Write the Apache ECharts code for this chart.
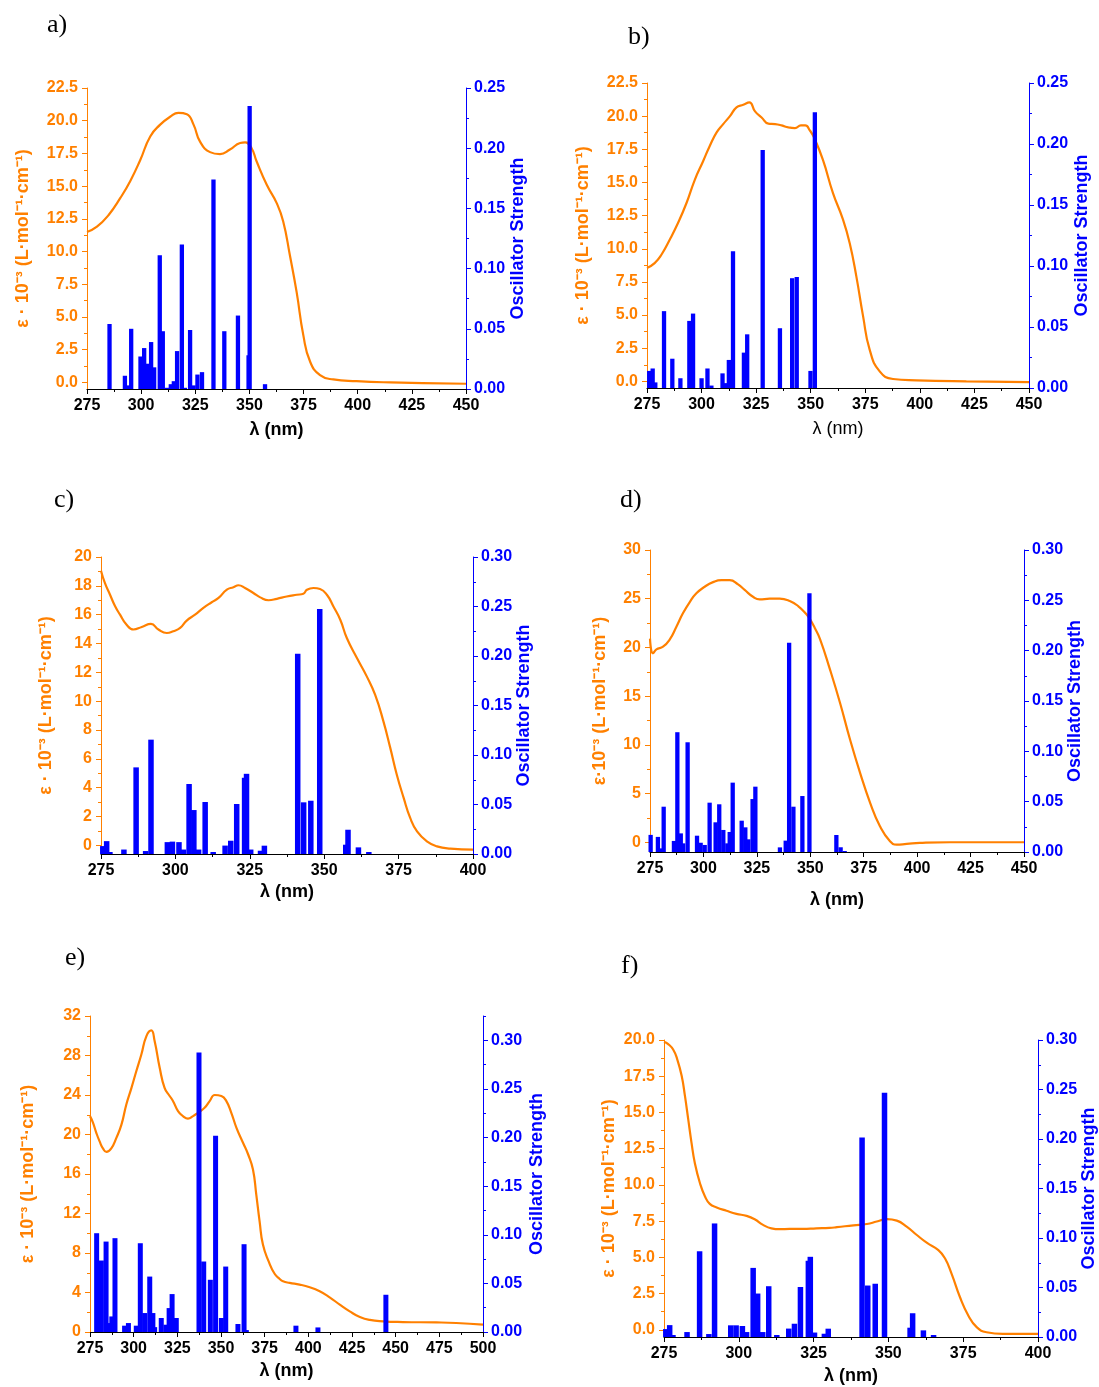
<!DOCTYPE html>
<html><head><meta charset="utf-8">
<script src="https://cdn.jsdelivr.net/npm/echarts@6/dist/echarts.min.js"></script>
<style>html,body{margin:0;padding:0;background:#fff}#c{width:1099px;height:1387px}</style>
</head><body><div id="c"></div>
<script>
// ---------- Panel a ----------
const curveA_x = [275,279.6,285,290.4,295,299.6,304.2,308.8,313.4,317.2,321.1,324.2,327.2,331.8,336.4,341,345.7,348,351,353.3,358,362.6,365.6,368.7,371.8,374.9,378,382.6,388.7,399.5,415,430,450];
const curveA_y = [11.5,11.9,12.8,14.1,15.4,17.0,18.8,19.7,20.3,20.6,20.5,19.7,18.4,17.6,17.45,17.8,18.3,18.35,17.9,16.9,15.1,13.7,12.3,9.7,6.9,3.6,1.6,0.56,0.23,0.1,0.0,-0.05,-0.1];
const barsA_x = [285.4,292.5,294.0,295.4,299.7,301.4,303.0,304.6,306.0,308.6,310.0,312.0,313.7,315.1,316.6,318.8,320.2,322.6,324.2,326.0,328.1,333.4,338.4,344.7,349.6,350.1,357.2];
const barsA_y = [0.054,0.011,0.003,0.050,0.027,0.034,0.021,0.039,0.018,0.111,0.048,0.001,0.004,0.0065,0.0315,0.120,0.001,0.049,0.003,0.012,0.014,0.174,0.048,0.061,0.028,0.235,0.004];

// ---------- Panel b ----------
const curveB_x = [275,278.5,281.6,285.4,289.2,293.1,296.9,300.7,303.8,306.9,309.9,313,316,319.1,321.9,324.5,327.5,330.6,333.7,336.7,339.8,342.8,345.5,347.5,349.7,351.5,355.6,360.2,364.8,367.9,370.9,374,377,381.6,387.7,398.4,421.3,450];
const curveB_y = [8.55,8.92,9.55,10.68,11.94,13.45,15.2,16.6,17.77,18.78,19.4,20.0,20.66,20.86,21.04,20.36,19.9,19.43,19.4,19.3,19.15,19.1,19.3,19.3,18.9,18.4,16.7,14.2,12.2,10.4,7.92,4.9,2.39,0.75,0.18,0.08,0.0,-0.05];
const barsB_x = [276.0,277.6,278.8,282.8,286.6,290.3,294.4,296.1,300.0,302.7,304.5,309.6,311.0,312.5,314.4,319.4,320.9,328.0,335.9,341.5,343.6,349.9,351.9];
const barsB_y = [0.014,0.016,0.0046,0.063,0.024,0.008,0.055,0.061,0.008,0.016,0.002,0.012,0.004,0.023,0.112,0.029,0.044,0.195,0.049,0.090,0.091,0.014,0.226];

// ---------- Panel c ----------
const curveC_x = [275,276.3,278,279.7,281.4,283.6,285.9,288.7,291.8,294.3,297.1,299.3,301.6,303.8,306.6,309.4,312.2,314.5,317.3,319.5,321.2,323.4,326.2,328.5,331.3,334.1,337.4,340.8,343,344.2,346.4,348.6,350.9,353.1,355.4,357.6,361,364.3,367.1,369.9,372.2,374.4,376.7,378.9,381.2,384.5,387.9,392.4,400];
const curveC_y = [19.05,18.2,17.4,16.6,16.0,15.3,14.97,15.15,15.36,14.97,14.73,14.85,15.08,15.59,16.0,16.47,16.86,17.16,17.74,17.9,18.04,17.85,17.5,17.2,17.0,17.1,17.26,17.38,17.45,17.73,17.85,17.78,17.38,16.57,15.65,14.38,12.99,11.72,10.45,8.6,6.76,4.9,3.29,1.9,0.97,0.28,-0.07,-0.23,-0.3];
const barsC_x = [275.6,276.9,278.0,282.7,286.8,290.0,291.8,297.3,299.0,301.2,302.7,304.6,306.2,307.8,310.0,312.7,316.7,318.6,320.6,323.25,323.9,325.3,328.6,329.9,341.1,343.1,345.5,348.5,357.25,358.0,361.5,365.0];
const barsC_y = [0.008,0.013,0.002,0.0045,0.0875,0.003,0.1155,0.012,0.0125,0.012,0.0045,0.0707,0.0444,0.0045,0.0525,0.002,0.0085,0.0134,0.0505,0.077,0.081,0.0045,0.0033,0.0084,0.2023,0.0522,0.0538,0.2475,0.0094,0.0245,0.0067,0.002];

// ---------- Panel d ----------
const curveD_x = [275,276.4,278,281.1,284.2,287.3,290.4,293.6,296.7,300.6,304.5,308.4,312.3,316.2,319.3,323.2,326.3,331,335.7,340.4,344.3,348.2,349.9,352.1,354.6,359.2,363.9,368.6,373.3,378,382.6,387.3,390.4,395.1,401.3,415.4,450];
const curveD_y = [20.9,19.4,19.8,20.07,20.8,22.1,23.5,24.66,25.55,26.23,26.7,26.9,26.9,26.47,25.9,25.2,24.93,25.0,25.0,24.76,24.25,23.4,22.88,22.0,20.83,17.74,14.32,10.55,7.13,4.05,1.64,0.1,-0.24,-0.17,-0.07,0,0];
const barsD_x = [275.3,278.7,280.0,281.4,286.2,287.8,289.4,290.5,292.6,297.0,298.7,300.6,302.9,305.7,307.4,309.3,311.2,312.3,313.7,317.9,319.6,321.0,323.0,324.3,335.8,338.5,340.1,342.1,346.3,349.6,362.2,364.2,366.1];
const barsD_y = [0.017,0.015,0.0036,0.045,0.011,0.119,0.0185,0.0086,0.109,0.0162,0.0092,0.007,0.049,0.0295,0.0474,0.0219,0.0086,0.0199,0.0689,0.0311,0.0245,0.0126,0.0526,0.0649,0.0046,0.0113,0.2079,0.045,0.0556,0.257,0.0169,0.0047,0.001];

// ---------- Panel e ----------
const curveE_x = [275,276.7,278.6,280.5,282.4,284.4,287.2,290.1,293,295.8,298.7,301.5,304.4,307.3,310.1,312,314.9,317.7,320.6,322.5,325.4,328.2,331.1,334,336.8,340.6,343.5,346.4,350.2,353,355.9,358.8,362.6,365.5,368.3,370.2,372.1,374,377.4,380.7,383.6,385.5,389.3,395,400.8,406.5,412.2,418,423.7,429.5,435.2,442.8,454.2,473.3,484.7,500];
const curveE_y = [21.86,21.2,20.17,19.3,18.6,18.24,18.6,19.66,21.0,23.04,24.7,26.4,28.1,29.97,30.54,29.46,26.76,24.73,23.9,23.4,22.36,21.86,21.6,21.86,22.2,22.7,23.38,24.0,23.9,23.4,22.2,20.7,19.16,18.0,16.45,13.92,11.2,8.85,7.1,5.9,5.37,5.13,4.97,4.8,4.53,4.12,3.51,2.77,2.09,1.52,1.22,1.08,1.01,0.97,0.91,0.74];
const barsE_x = [278.8,280.2,281.5,284.2,286.3,287.5,289.3,294.8,297.0,301.5,303.8,306.3,309.2,311.0,312.0,315.8,318.5,320.3,322.0,324.4,337.4,340.1,343.9,346.9,350.2,352.7,359.7,363.2,364.5,392.9,405.5,444.4];
const barsE_y = [0.1016,0.030,0.0735,0.093,0.0092,0.016,0.0965,0.0065,0.0092,0.0065,0.0913,0.0195,0.057,0.0195,0.005,0.0144,0.0075,0.0246,0.039,0.0144,0.2874,0.0725,0.0537,0.2018,0.0144,0.0673,0.0082,0.0903,0.002,0.0065,0.0047,0.0383];

// ---------- Panel f ----------
const curveF_x = [275,276.4,278.1,279.4,280.9,282,283.1,284.2,285.3,287,288.7,290.3,292.6,295.9,299.2,302.6,305.3,308.1,310.9,313.7,317,321.4,325.9,330.3,332.8,338.3,342.8,346.1,349.5,352.8,356.1,359.5,362.8,366.7,368.9,371.1,373.9,376.7,379.5,382.8,388.3,400];
const curveF_y = [19.88,19.72,19.33,18.68,17.53,16.14,14.52,12.9,11.51,10.13,9.2,8.69,8.44,8.21,8.0,7.86,7.63,7.24,7.0,6.94,6.96,6.96,7.0,7.03,7.08,7.21,7.3,7.47,7.63,7.53,7.12,6.54,6.01,5.5,4.93,3.88,2.26,0.99,0.18,-0.17,-0.28,-0.28];
const barsF_x = [275.6,276.9,278.0,282.7,286.9,290.0,291.9,297.3,299.1,301.2,302.6,304.8,306.3,308.0,310.0,312.7,316.7,318.6,320.6,323.25,323.9,325.3,328.6,329.9,341.2,343.1,345.6,348.7,357.25,358.1,361.7,365.1];
const barsF_y = [0.008,0.012,0.002,0.005,0.0866,0.003,0.1147,0.0118,0.0118,0.0111,0.005,0.0698,0.0439,0.005,0.0513,0.002,0.0085,0.0134,0.0505,0.077,0.081,0.0045,0.0033,0.0084,0.2016,0.052,0.0538,0.2467,0.0094,0.024,0.0067,0.002];

// ---------- tick label values ----------
function range(a, b, s) { const r = []; for (let v = a; v <= b + 1e-9; v += s) r.push(+v.toFixed(4)); return r; }
const leftTicksA = range(0, 22.5, 2.5), leftMinorA = range(1.25, 21.25, 2.5);
const leftTicksC = range(0, 20, 2),     leftMinorC = range(1, 19, 2);
const leftTicksD = range(0, 30, 5),     leftMinorD = range(2.5, 27.5, 5);
const leftTicksE = range(0, 32, 4),     leftMinorE = range(2, 30, 4);
const leftTicksF = range(0, 20, 2.5),   leftMinorF = range(1.25, 18.75, 2.5);
const rightTicks25 = range(0, 0.25, 0.05), rightMinor25 = range(0.025, 0.225, 0.05);
const rightTicks30 = range(0, 0.30, 0.05), rightMinor30 = range(0.025, 0.275, 0.05);
const rightMinorE = range(0.025, 0.325, 0.05);

const ORANGE = '#FF8000', BLUE = '#0000FF';
const FONT = '"Liberation Sans", Arial, sans-serif';
const EPS = 'ε · 10⁻³ (L·mol⁻¹·cm⁻¹)';
const EPS_D = 'ε·10⁻³ (L·mol⁻¹·cm⁻¹)';

const panels = [
  { lab:'a)', lx:47, ly:25, grid:[87,88,379,301], xMax:450, lMin:-0.5, lMax:22.5, lT:leftTicksA, lM:leftMinorA, lDec:1,
    rMax:0.25, rT:rightTicks25, rM:rightMinor25, cx:curveA_x, cy:curveA_y, bx:barsA_x, by:barsA_y, bw:4.3, fs:16,
    lName:EPS, lGap:55, rGap:43, xGap:32, xBold:true },
  { lab:'b)', lx:628, ly:37, grid:[647,83,382,305], xMax:450, lMin:-0.5, lMax:22.5, lT:leftTicksA, lM:leftMinorA, lDec:1,
    rMax:0.25, rT:rightTicks25, rM:rightMinor25, cx:curveB_x, cy:curveB_y, bx:barsB_x, by:barsB_y, bw:4.3, fs:16,
    lName:EPS, lGap:55, rGap:44, xGap:32, xBold:false },
  { lab:'c)', lx:54, ly:500, grid:[101,557,372,297], xMax:400, lMin:-0.6, lMax:20, lT:leftTicksC, lM:leftMinorC, lDec:0,
    rMax:0.30, rT:rightTicks30, rM:rightMinor30, cx:curveC_x, cy:curveC_y, bx:barsC_x, by:barsC_y, bw:5.5, fs:16,
    lName:EPS, lGap:46, rGap:42, xGap:29, xBold:true },
  { lab:'d)', lx:620, ly:500, grid:[650,550,374,302], xMax:450, lMin:-1, lMax:30, lT:leftTicksD, lM:leftMinorD, lDec:0,
    rMax:0.30, rT:rightTicks30, rM:rightMinor30, cx:curveD_x, cy:curveD_y, bx:barsD_x, by:barsD_y, bw:4.3, fs:16,
    lName:EPS_D, lGap:41, rGap:42, xGap:39, xBold:true },
  { lab:'e)', lx:65, ly:958, grid:[90,1016,393,316], xMax:500, lMin:0, lMax:32, lT:leftTicksE, lM:leftMinorE, lDec:0,
    rMax:0.325, rT:rightTicks30, rM:rightMinorE, cx:curveE_x, cy:curveE_y, bx:barsE_x, by:barsE_y, bw:5, fs:16,
    lName:EPS, lGap:53, rGap:45, xGap:30, xBold:true },
  { lab:'f)', lx:621, ly:966, grid:[664,1040,374,297], xMax:400, lMin:-0.5, lMax:20, lT:leftTicksF, lM:leftMinorF, lDec:1,
    rMax:0.30, rT:rightTicks30, rM:rightMinor30, cx:curveF_x, cy:curveF_y, bx:barsF_x, by:barsF_y, bw:5.5, fs:16,
    lName:EPS, lGap:46, rGap:42, xGap:30, xBold:true }
];

function pairs(xs, ys) { return xs.map((x, i) => [x, ys[i]]); }

const option = { animation:false, backgroundColor:'#fff', grid:[], xAxis:[], yAxis:[], series:[], graphic:[] };

panels.forEach((p, i) => {
  option.grid.push({ left:p.grid[0], top:p.grid[1], width:p.grid[2], height:p.grid[3], containLabel:false, outerBoundsMode:'none', show:false });
  option.xAxis.push({
    type:'value', gridIndex:i, min:275, max:p.xMax, interval:25,
    name:'λ (nm)', nameLocation:'middle', nameGap:p.xGap, nameMoveOverlap:false,
    nameTextStyle:{ color:'#000', fontSize:18, fontWeight:p.xBold ? 'bold' : 'normal', fontFamily:FONT },
    axisLine:{ show:true, onZero:false, lineStyle:{ color:'#000', width:1.2 } },
    axisTick:{ show:true, length:5, lineStyle:{ color:'#000' } },
    minorTick:{ show:true, splitNumber:2, length:3, lineStyle:{ color:'#000' } },
    axisLabel:{ color:'#000', fontSize:p.fs, fontWeight:'bold', fontFamily:FONT, margin:9, showMinLabel:true, showMaxLabel:true },
    splitLine:{ show:false }, minorSplitLine:{ show:false }
  });
  const base = 4 * i;
  option.yAxis.push({
    type:'value', gridIndex:i, position:'left', min:p.lMin, max:p.lMax,
    name:p.lName, nameLocation:'middle', nameGap:p.lGap, nameMoveOverlap:false,
    nameTextStyle:{ color:ORANGE, fontSize:18, fontWeight:'bold', fontFamily:FONT },
    axisLine:{ show:true, onZero:false, lineStyle:{ color:ORANGE, width:1 } },
    axisTick:{ show:true, length:5, customValues:p.lT, lineStyle:{ color:ORANGE } },
    axisLabel:{ customValues:p.lT, formatter:(v) => Number(v).toFixed(p.lDec), color:ORANGE, fontSize:p.fs, fontWeight:'bold', fontFamily:FONT, margin:9 },
    splitLine:{ show:false }
  });
  option.yAxis.push({
    type:'value', gridIndex:i, position:'right', min:0, max:p.rMax,
    name:'Oscillator Strength', nameLocation:'middle', nameGap:p.rGap, nameMoveOverlap:false,
    nameTextStyle:{ color:BLUE, fontSize:18, fontWeight:'bold', fontFamily:FONT },
    axisLine:{ show:true, onZero:false, lineStyle:{ color:BLUE, width:1 } },
    axisTick:{ show:true, length:5, customValues:p.rT, lineStyle:{ color:BLUE } },
    axisLabel:{ customValues:p.rT, formatter:(v) => Number(v).toFixed(2), color:BLUE, fontSize:p.fs, fontWeight:'bold', fontFamily:FONT, margin:8 },
    splitLine:{ show:false }
  });
  option.yAxis.push({
    type:'value', gridIndex:i, position:'left', min:p.lMin, max:p.lMax,
    axisLine:{ show:false }, axisLabel:{ show:false }, splitLine:{ show:false },
    axisTick:{ show:true, length:3, customValues:p.lM, lineStyle:{ color:ORANGE } }
  });
  option.yAxis.push({
    type:'value', gridIndex:i, position:'right', min:0, max:p.rMax,
    axisLine:{ show:false }, axisLabel:{ show:false }, splitLine:{ show:false },
    axisTick:{ show:true, length:3, customValues:p.rM, lineStyle:{ color:BLUE } }
  });
  option.series.push({
    type:'line', xAxisIndex:i, yAxisIndex:base, data:pairs(p.cx, p.cy), showSymbol:false,
    smooth:0.5, lineStyle:{ color:ORANGE, width:2.2 }, itemStyle:{ color:ORANGE }, z:2
  });
  option.series.push({
    type:'bar', xAxisIndex:i, yAxisIndex:base + 1, data:pairs(p.bx, p.by), barWidth:p.bw,
    itemStyle:{ color:BLUE }, z:3
  });
  option.graphic.push({
    type:'text', x:p.lx, y:p.ly,
    style:{ text:p.lab, fontSize:26, fontFamily:'"Liberation Serif", "Times New Roman", serif', fill:'#000', verticalAlign:'middle', align:'left' }
  });
});

const chart = echarts.init(document.getElementById('c'), null, { renderer:'canvas' });
chart.setOption(option);
</script></body></html>
